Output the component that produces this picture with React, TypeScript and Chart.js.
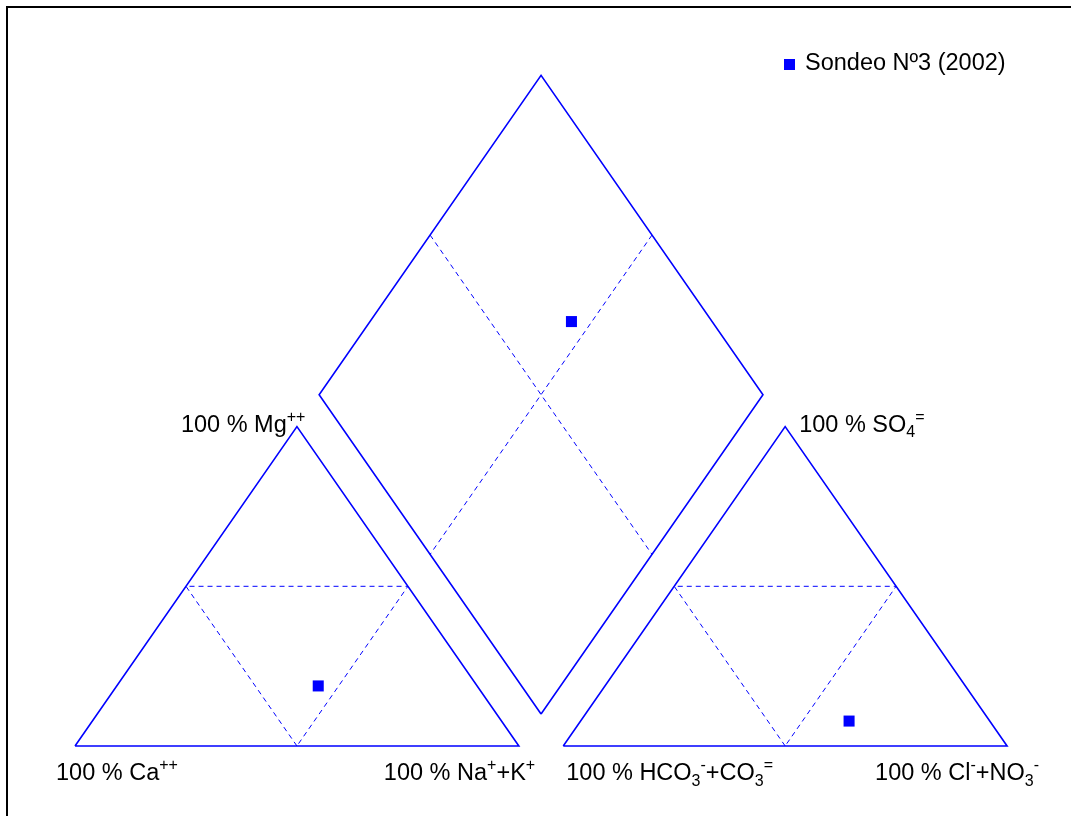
import React, { useEffect, useRef } from "react";
import { Chart, registerables } from "chart.js";

Chart.register(...registerables);

// Sample composition (% meq/l)
const sampleName = "Sondeo Nº3 (2002)";
const cationLabels = ["Ca++", "Mg++", "Na+K+"];
const cationValues = [35.8, 18.8, 45.4]; // Ca, Mg, Na+K
const anionLabels = ["HCO3-+CO3=", "SO4=", "Cl-+NO3-"];
const anionValues = [31.7, 7.8, 60.5]; // HCO3+CO3, SO4, Cl+NO3

const H = Math.sqrt(3) / 2;
const SIDE = 100;
const GAP = 10;
const RX = SIDE + GAP; // right triangle offset

const BLUE = "#0000ff";
const FONT = "'Liberation Sans', Arial, Helvetica, sans-serif";

type P = { x: number; y: number };

function cationPoint(mg: number, na: number): P {
  return { x: na + mg / 2, y: mg * H };
}
function anionPoint(so4: number, cl: number): P {
  return { x: RX + cl + so4 / 2, y: so4 * H };
}
function diamondPoint(c: P, a: P): P {
  const t = ((a.x - c.x) * 2 + (a.y - c.y) / H) / 2;
  return { x: c.x + 0.5 * t, y: c.y + H * t };
}

function outlines() {
  const leftTri: P[] = [
    { x: 0, y: 0 },
    { x: SIDE, y: 0 },
    { x: SIDE / 2, y: SIDE * H },
    { x: 0, y: 0 },
  ];
  const rightTri: P[] = leftTri.map((p) => ({ x: p.x + RX, y: p.y }));
  const bx = SIDE + GAP / 2;
  const by = GAP * H;
  const diamond: P[] = [
    { x: bx, y: by },
    { x: bx - SIDE / 2, y: by + SIDE * H },
    { x: bx, y: by + 2 * SIDE * H },
    { x: bx + SIDE / 2, y: by + SIDE * H },
    { x: bx, y: by },
  ];
  const midTri = (ox: number): P[] => [
    { x: ox + SIDE / 2, y: 0 },
    { x: ox + SIDE / 4, y: (SIDE / 2) * H },
    { x: ox + (3 * SIDE) / 4, y: (SIDE / 2) * H },
    { x: ox + SIDE / 2, y: 0 },
  ];
  const d1: P[] = [
    { x: bx - SIDE / 4, y: by + 1.5 * SIDE * H },
    { x: bx + SIDE / 4, y: by + 0.5 * SIDE * H },
  ];
  const d2: P[] = [
    { x: bx + SIDE / 4, y: by + 1.5 * SIDE * H },
    { x: bx - SIDE / 4, y: by + 0.5 * SIDE * H },
  ];
  return { solid: [leftTri, rightTri, diamond], dashed: [midTri(0), midTri(RX), d1, d2] };
}

type Seg = { t: string; m?: "sup" | "sub" };

function drawRich(ctx: CanvasRenderingContext2D, x: number, y: number, segs: Seg[], size: number) {
  let cx = x;
  ctx.textBaseline = "alphabetic";
  ctx.textAlign = "left";
  for (const s of segs) {
    if (!s.m) {
      ctx.font = `${size}px ${FONT}`;
      ctx.fillText(s.t, cx, y);
      cx += ctx.measureText(s.t).width;
    } else {
      const fs = Math.round(size * 0.7);
      ctx.font = `${fs}px ${FONT}`;
      const dy = s.m === "sup" ? -size * 0.42 : size * 0.24;
      ctx.fillText(s.t, cx, y + dy);
      cx += ctx.measureText(s.t).width;
    }
  }
}

const labelPlugin = {
  id: "piperLabels",
  afterDraw(chart: any) {
    const ctx: CanvasRenderingContext2D = chart.ctx;
    const xs = chart.scales.x;
    const ys = chart.scales.y;
    ctx.save();
    ctx.fillStyle = "#000";
    const sz = 23.5;
    const px = (v: number) => xs.getPixelForValue(v);
    const py = (v: number) => ys.getPixelForValue(v);
    // Apex labels
    drawRich(ctx, px(SIDE / 2) - 116, py(SIDE * H) + 5, [{ t: "100 % Mg" }, { t: "++", m: "sup" }], sz);
    drawRich(ctx, px(RX + SIDE / 2) + 14, py(SIDE * H) + 5, [{ t: "100 % SO" }, { t: "4", m: "sub" }, { t: "=", m: "sup" }], sz);
    // Base labels
    const by = py(0) + 34;
    drawRich(ctx, px(0) - 19, by, [{ t: "100 % Ca" }, { t: "++", m: "sup" }], sz);
    drawRich(ctx, px(SIDE) - 135, by, [{ t: "100 % Na" }, { t: "+", m: "sup" }, { t: "+K" }, { t: "+", m: "sup" }], sz);
    drawRich(ctx, px(RX) + 3, by, [
      { t: "100 % HCO" }, { t: "3", m: "sub" }, { t: "-", m: "sup" }, { t: "+CO" }, { t: "3", m: "sub" }, { t: "=", m: "sup" },
    ], sz);
    drawRich(ctx, px(RX + SIDE) - 132, by, [
      { t: "100 % Cl" }, { t: "-", m: "sup" }, { t: "+NO" }, { t: "3", m: "sub" }, { t: "-", m: "sup" },
    ], sz);
    // Legend
    ctx.fillStyle = BLUE;
    ctx.fillRect(784, 59, 11, 11);
    ctx.fillStyle = "#000";
    ctx.font = `${sz}px ${FONT}`;
    ctx.textBaseline = "alphabetic";
    ctx.fillText(sampleName, 805, 70);
    // Frame
    ctx.strokeStyle = "#000";
    ctx.lineWidth = 2;
    ctx.beginPath();
    ctx.moveTo(7, chart.height + 5);
    ctx.lineTo(7, 7);
    ctx.lineTo(chart.width + 5, 7);
    ctx.stroke();
    ctx.restore();
  },
};

export default function App() {
  const ref = useRef<HTMLCanvasElement | null>(null);
  useEffect(() => {
    if (!ref.current) return;
    const { solid, dashed } = outlines();
    const c = cationPoint(cationValues[1], cationValues[2]);
    const a = anionPoint(anionValues[1], anionValues[2]);
    const d = diamondPoint(c, a);
    const datasets: any[] = [];
    solid.forEach((pts) =>
      datasets.push({
        type: "scatter",
        data: pts,
        showLine: true,
        borderColor: BLUE,
        borderWidth: 1.6,
        pointRadius: 0,
        fill: false,
        tension: 0,
      })
    );
    dashed.forEach((pts) =>
      datasets.push({
        type: "scatter",
        data: pts,
        showLine: true,
        borderColor: BLUE,
        borderWidth: 1,
        borderDash: [5, 4],
        pointRadius: 0,
        fill: false,
        tension: 0,
      })
    );
    datasets.push({
      type: "scatter",
      label: sampleName,
      data: [c, a, d],
      pointStyle: "rect",
      pointRadius: 7.8,
      backgroundColor: BLUE,
      borderColor: BLUE,
      borderWidth: 0,
      showLine: false,
    });
    const chart = new Chart(ref.current, {
      type: "scatter",
      data: { datasets },
      options: {
        animation: false,
        responsive: false,
        layout: { padding: 0, autoPadding: false },
        plugins: { legend: { display: false }, tooltip: { enabled: false } },
        scales: {
          x: { type: "linear", display: false, min: -16.9, max: 224.4 },
          y: { type: "linear", display: false, min: -18.99, max: 202.3 },
        },
      },
      plugins: [labelPlugin],
    });
    return () => chart.destroy();
  }, []);
  return (
    <div style={{ position: "absolute", left: 0, top: 0, width: 1071, height: 816, background: "#fff" }}>
      <canvas ref={ref} width={1071} height={816} style={{ display: "block" }} />
    </div>
  );
}
